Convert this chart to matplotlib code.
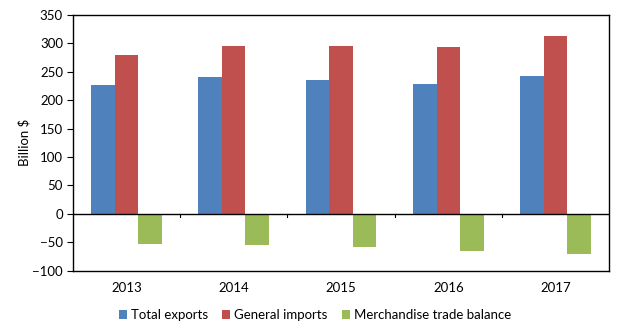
import numpy as np
import matplotlib.pyplot as plt
plt.switch_backend('agg')

plt.rcParams['font.family'] = ['Lato', 'DejaVu Sans']

years = ['2013', '2014', '2015', '2016', '2017']
exports = [226, 240, 236, 229, 242]
imports = [280, 296, 295, 293, 313]
balance = [-53, -54, -59, -65, -71]

fig = plt.figure(figsize=(6.24, 3.36), dpi=100)
ax = fig.add_axes([0.1165, 0.194, 0.86, 0.762])

x = np.arange(len(years))
w = 0.22
ax.bar(x - w, exports, w, color='#4F81BD', label='Total exports')
ax.bar(x, imports, w, color='#C0504D', label='General imports')
ax.bar(x + w, balance, w, color='#9BBB59', label='Merchandise trade balance')

ax.set_xlim(-0.5, 4.5)
ax.set_ylim(-100, 350)
ax.set_yticks(range(-100, 351, 50))
ax.tick_params(axis='y', direction='out', length=4, width=0.8, labelsize=9.5, pad=3)
ax.set_ylabel('Billion $', fontsize=9.5, labelpad=1)

# category axis sits on zero, ticks between categories
ax.axhline(0, color='black', lw=1)
ax.set_xticks([])
for b in np.arange(-0.5, 4.6, 1.0)[1:-1]:
    ax.plot([b, b], [0, -5], color='black', lw=0.8)
for i, yr in enumerate(years):
    ax.text(i, -130, yr, ha='center', va='center', fontsize=9.5, transform=ax.transData, clip_on=False)

for s in ax.spines.values():
    s.set_color('black')
    s.set_linewidth(1)

fig.legend(loc='center', bbox_to_anchor=(0.505, 0.062), ncol=3, frameon=False, fontsize=9.5,
           handlelength=0.6, handleheight=0.6, handletextpad=0.3, columnspacing=1.1)

plt.savefig('out.png', dpi=100)
plt.close()
